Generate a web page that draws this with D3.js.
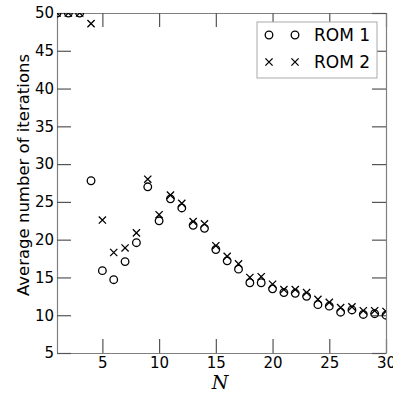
<!DOCTYPE html>
<html>
<head>
<meta charset="utf-8">
<script src="https://cdn.jsdelivr.net/npm/d3@7"></script>
<style>
  body { margin: 0; background: #fff; }
  text { font-family: "DejaVu Sans", sans-serif; }
</style>
</head>
<body>
<div class="chart"></div>
<script>
// values
const nValues = d3.range(1, 31);
const rom1 = [50, 50, 50, 27.8, 15.9, 14.7, 17.1, 19.6, 27.0, 22.5,
  25.4, 24.2, 21.9, 21.5, 18.7, 17.2, 16.1, 14.3, 14.3, 13.5,
  13.0, 12.9, 12.5, 11.4, 11.2, 10.4, 10.7, 10.1, 10.2, 10.0];
const rom2 = [50, 50, 50, 48.6, 22.6, 18.3, 18.9, 20.9, 28.0, 23.3,
  25.9, 24.8, 22.4, 22.1, 19.2, 17.8, 16.8, 15.0, 15.1, 14.1,
  13.4, 13.4, 13.0, 12.1, 11.7, 11.0, 11.1, 10.6, 10.6, 10.5];
const xTicks = [5, 10, 15, 20, 25, 30];
const yTicks = [5, 10, 15, 20, 25, 30, 35, 40, 45, 50];
const seriesNames = ["ROM 1", "ROM 2"];

const width = 393, height = 396;
const margin = {left: 57, right: 7, top: 13, bottom: 43};

const svg = d3.select(".chart").append("svg")
  .attr("width", width)
  .attr("height", height);

const x = d3.scaleLinear().domain([1, 30]).range([margin.left, width - margin.right]);
const y = d3.scaleLinear().domain([5, 50]).range([height - margin.bottom, margin.top]);

svg.append("clipPath").attr("id", "clip")
  .append("rect")
  .attr("x", margin.left).attr("y", margin.top)
  .attr("width", width - margin.left - margin.right)
  .attr("height", height - margin.top - margin.bottom);

const tickLen = 14;
const axisColor = "#808080";
const tickColor = "#555";

// axes with inner ticks
const axBottom = svg.append("g")
  .attr("transform", `translate(0,${height - margin.bottom})`)
  .call(d3.axisBottom(x).tickValues(xTicks).tickSizeInner(-tickLen).tickSizeOuter(0).tickPadding(4));
const axTop = svg.append("g")
  .attr("transform", `translate(0,${margin.top})`)
  .call(d3.axisTop(x).tickValues(xTicks).tickSizeInner(-tickLen).tickSizeOuter(0).tickFormat(""));
const axLeft = svg.append("g")
  .attr("transform", `translate(${margin.left},0)`)
  .call(d3.axisLeft(y).tickValues(yTicks).tickSizeInner(-tickLen).tickSizeOuter(0).tickPadding(3));
const axRight = svg.append("g")
  .attr("transform", `translate(${width - margin.right},0)`)
  .call(d3.axisRight(y).tickValues(yTicks).tickSizeInner(-tickLen).tickSizeOuter(0).tickFormat(""));

[axBottom, axTop, axLeft, axRight].forEach(g => {
  g.select(".domain").attr("stroke", axisColor).attr("stroke-width", 1.2);
  g.selectAll(".tick line").attr("stroke", tickColor).attr("stroke-width", 1.2);
  g.selectAll(".tick text").attr("fill", "#000").style("font-size", "15px")
    .style("font-family", "DejaVu Sans, sans-serif");
});

const pts = svg.append("g").attr("clip-path", "url(#clip)");

pts.selectAll("circle.r1")
  .data(nValues.map((n, i) => [n, rom1[i]]))
  .enter()
  .append("circle")
  .attr("class", "r1")
  .attr("cx", d => x(d[0]))
  .attr("cy", d => y(d[1]))
  .attr("r", 3.8)
  .attr("fill", "none")
  .attr("stroke", "#000")
  .attr("stroke-width", 1.3);

const s = 3.6;
const cross = (cx, cy) => `M${cx - s},${cy - s}L${cx + s},${cy + s}M${cx - s},${cy + s}L${cx + s},${cy - s}`;
pts.selectAll("path.r2")
  .data(nValues.map((n, i) => [n, rom2[i]]))
  .enter()
  .append("path")
  .attr("class", "r2")
  .attr("d", d => cross(x(d[0]), y(d[1])))
  .attr("stroke", "#000")
  .attr("stroke-width", 1.3)
  .attr("fill", "none");

// legend
const lg = svg.append("g");
lg.append("rect")
  .attr("x", 257).attr("y", 22)
  .attr("width", 120).attr("height", 56)
  .attr("fill", "#fff")
  .attr("stroke", "#aaa")
  .attr("stroke-width", 1);

seriesNames.forEach((name, i) => {
  const ly = 35 + i * 27;
  [269, 295].forEach(lx => {
    if (i === 0) {
      lg.append("circle").attr("cx", lx).attr("cy", ly).attr("r", 3.8)
        .attr("fill", "none").attr("stroke", "#000").attr("stroke-width", 1.3);
    } else {
      lg.append("path").attr("d", cross(lx, ly))
        .attr("stroke", "#000").attr("stroke-width", 1.3);
    }
  });
  lg.append("text")
    .attr("x", 314).attr("y", ly + 6)
    .style("font-size", "17px")
    .text(name);
});

// axis labels
svg.append("text")
  .attr("transform", `translate(29,175) rotate(-90)`)
  .attr("text-anchor", "middle")
  .style("font-size", "16.5px")
  .text("Average number of iterations");

svg.append("text")
  .attr("x", 220)
  .attr("y", 389)
  .attr("text-anchor", "middle")
  .style("font-family", "DejaVu Serif, serif")
  .style("font-style", "italic")
  .style("font-size", "19px")
  .text("N");
</script>
</body>
</html>
